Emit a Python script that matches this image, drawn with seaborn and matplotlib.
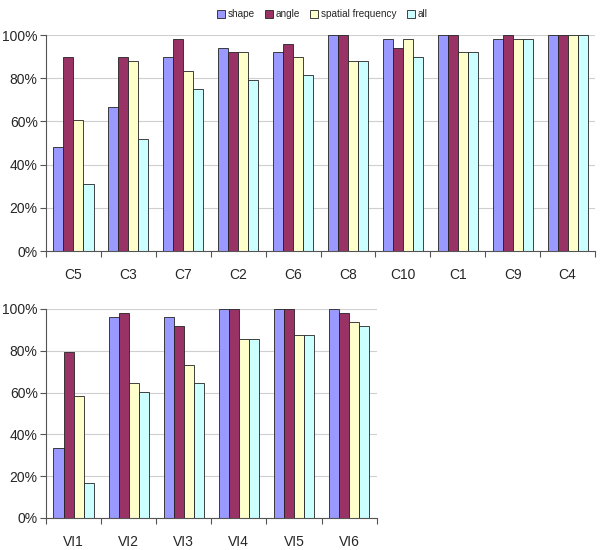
import numpy as np
import pandas as pd
import matplotlib
matplotlib.use("Agg")
import matplotlib.pyplot as plt
import seaborn as sns
from matplotlib.ticker import PercentFormatter, FixedLocator

series = ["shape", "angle", "spatial frequency", "all"]
colors = ["#9999FF", "#993366", "#FFFFCC", "#CCFFFF"]

top_cats = ["C5", "C3", "C7", "C2", "C6", "C8", "C10", "C1", "C9", "C4"]
top_shape = [48, 66.7, 90, 94, 92, 100, 98, 100, 98, 100]
top_angle = [90, 90, 98, 92, 96, 100, 94, 100, 100, 100]
top_sf = [60.5, 88, 83.3, 92, 90, 88, 98, 92, 98, 100]
top_all = [31, 52, 75, 79, 81.5, 88, 90, 92, 98, 100]

bot_cats = ["VI1", "VI2", "VI3", "VI4", "VI5", "VI6"]
bot_shape = [33.3, 96, 96, 100, 100, 100]
bot_angle = [79.5, 98, 92, 100, 100, 98]
bot_sf = [58.3, 64.6, 73, 85.7, 87.5, 94]
bot_all = [16.7, 60.4, 64.6, 85.7, 87.5, 92]


def long_df(cats, vals):
    rows = []
    for s, v in zip(series, vals):
        for c, x in zip(cats, v):
            rows.append({"cat": c, "series": s, "value": x})
    return pd.DataFrame(rows)


sns.set_theme(style="white")
plt.rcParams["font.family"] = ["Liberation Sans", "DejaVu Sans"]

fig = plt.figure(figsize=(6, 5.5), dpi=100)
ax1 = fig.add_axes([0.0767, 0.5436, 0.915, 0.3927])
ax2 = fig.add_axes([0.0767, 0.0582, 0.551, 0.38])


def draw(ax, cats, vals, legend):
    df = long_df(cats, vals)
    sns.barplot(data=df, x="cat", y="value", hue="series", hue_order=series,
                order=cats, palette=colors, width=0.73, ax=ax,
                edgecolor="#222222", linewidth=0.6, legend=legend, saturation=1)
    ax.set_ylim(0, 100)
    ax.set_xlim(-0.5, len(cats) - 0.5)
    ax.set_yticks([0, 20, 40, 60, 80, 100])
    ax.yaxis.set_major_formatter(PercentFormatter(decimals=0))
    ax.set_xlabel("")
    ax.set_ylabel("")
    ax.grid(axis="y", color="#cfcfcf", linewidth=0.8)
    ax.set_axisbelow(True)
    for s in ["top", "right"]:
        ax.spines[s].set_visible(False)
    for s in ["left", "bottom"]:
        ax.spines[s].set_color("#555555")
        ax.spines[s].set_linewidth(0.8)
    ax.tick_params(axis="y", which="major", length=4, width=0.8, color="#555555",
                   direction="out", left=True, labelsize=10, pad=2)
    ax.tick_params(axis="x", which="major", length=0, labelsize=10, pad=12)
    ax.xaxis.set_minor_locator(FixedLocator(np.arange(-0.5, len(cats), 1.0)))
    ax.tick_params(axis="x", which="minor", length=4, width=0.8, color="#555555",
                   direction="out", bottom=True)


draw(ax1, top_cats, [top_shape, top_angle, top_sf, top_all], True)
draw(ax2, bot_cats, [bot_shape, bot_angle, bot_sf, bot_all], False)

leg = ax1.get_legend()
handles, labels = ax1.get_legend_handles_labels()
leg.remove()
fig.legend(handles, labels, loc="center", bbox_to_anchor=(0.537, 0.974), ncol=4,
           frameon=False, fontsize=7.2, handlelength=0.8, handleheight=0.8,
           handletextpad=0.3, columnspacing=1.0)

fig.savefig("out.png", dpi=100)
